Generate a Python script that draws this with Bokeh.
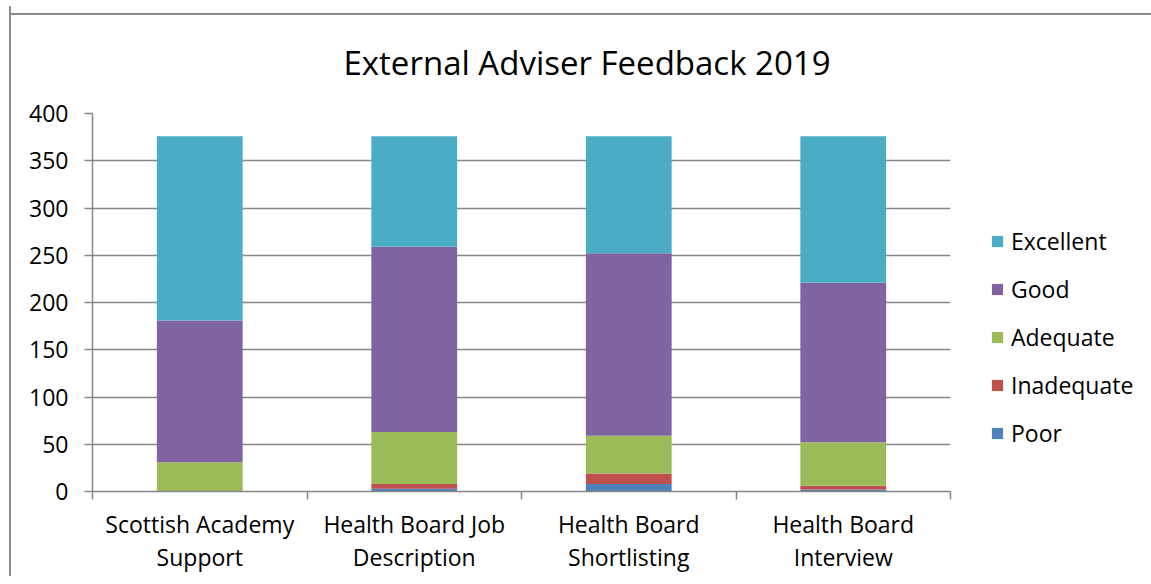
from bokeh.plotting import figure
from bokeh.models import Range1d, FixedTicker, Legend, LegendItem, ColumnDataSource
from bokeh.embed import file_html
from bokeh.resources import INLINE

title_text = "External Adviser Feedback 2019"
categories = ["Scottish Academy\nSupport", "Health Board Job\nDescription",
              "Health Board\nShortlisting", "Health Board\nInterview"]
series = ["Poor", "Inadequate", "Adequate", "Good", "Excellent"]
poor = [0, 3, 8, 2]
inadequate = [0, 5, 11, 4]
adequate = [31, 55, 40, 46]
good = [150, 196, 193, 169]
excellent = [195, 117, 124, 155]
colors = ["#4F81BD", "#C0504D", "#9BBB59", "#8064A2", "#4BACC6"]
y_ticks = [0, 50, 100, 150, 200, 250, 300, 350, 400]

FONT = "Open Sans"
GRAY = "#868686"

xs = [i + 1 for i in range(len(categories))]
src = ColumnDataSource(dict(x=xs, Poor=poor, Inadequate=inadequate, Adequate=adequate,
                            Good=good, Excellent=excellent))

p = figure(frame_width=858, frame_height=378, output_backend="svg", toolbar_location=None,
           x_range=Range1d(0.5, len(categories) + 0.5), y_range=Range1d(0, 400),
           min_border_left=81, min_border_right=190, min_border_top=107, min_border_bottom=78)
p.border_fill_color = None
p.styles = {"border-left": "2px solid #8c8c8c",
            "background": "linear-gradient(#8c8c8c, #8c8c8c) 0 7px / 100% 2px no-repeat",
            "margin-left": "9px", "margin-top": "6px"}

rs = p.vbar_stack(series, x="x", width=0.4, source=src, color=colors, line_color=None)

p.title.text = title_text
p.title.align = "left"
p.title.offset = 251
p.title.standoff = 58
p.title.text_font = FONT
p.title.text_font_size = "33px"
p.title.text_font_style = "normal"
p.title.text_color = "#000000"

p.outline_line_color = None
p.xgrid.grid_line_color = None
p.ygrid.grid_line_color = GRAY
p.ygrid.grid_line_width = 1.5
p.ygrid.ticker = FixedTicker(ticks=y_ticks)

p.yaxis.ticker = FixedTicker(ticks=y_ticks)
p.yaxis.axis_line_color = GRAY
p.yaxis.axis_line_width = 1.5
p.yaxis.major_tick_line_color = GRAY
p.yaxis.major_tick_line_width = 1.5
p.yaxis.major_tick_out = 8
p.yaxis.major_tick_in = 0
p.yaxis.minor_tick_line_color = None
p.yaxis.major_label_text_font = FONT
p.yaxis.major_label_text_font_size = "23px"
p.yaxis.major_label_text_color = "#000000"
p.yaxis.major_label_standoff = 16

p.xaxis.ticker = FixedTicker(ticks=xs, minor_ticks=[x - 0.5 for x in xs] + [xs[-1] + 0.5])
p.xaxis.major_label_overrides = {x: c for x, c in zip(xs, categories)}
p.xaxis.axis_line_color = GRAY
p.xaxis.axis_line_width = 1.5
p.xaxis.major_tick_line_color = None
p.xaxis.major_tick_out = 0
p.xaxis.minor_tick_line_color = GRAY
p.xaxis.minor_tick_line_width = 1.5
p.xaxis.minor_tick_out = 8
p.xaxis.minor_tick_in = 0
p.xaxis.major_label_text_font = FONT
p.xaxis.major_label_text_font_size = "23px"
p.xaxis.major_label_text_color = "#000000"
p.xaxis.major_label_standoff = 8
p.xaxis.major_label_text_line_height = 1.05

items = [LegendItem(label=s, renderers=[r]) for s, r in zip(series, rs)][::-1]
legend = Legend(items=items, location=(40, 42), margin=0, padding=0,
                border_line_color=None, background_fill_alpha=0,
                glyph_width=14, glyph_height=14, label_standoff=7,
                label_text_font=FONT, label_text_font_size="23px",
                label_text_color="#000000", label_height=20, spacing=16)
p.add_layout(legend, "right")

open("out.html", "w").write(file_html(p, INLINE))
